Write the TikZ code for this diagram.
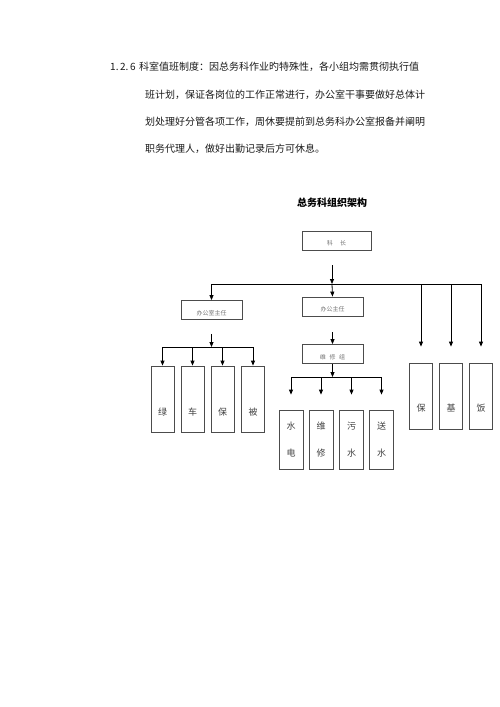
\documentclass[tikz,border=0pt]{standalone}
\usepackage{fontspec}
\newfontfamily\cjk{Noto Sans CJK SC}
\usetikzlibrary{positioning,arrows.meta,calc}

\begin{document}
\begin{tikzpicture}[x=1pt, y=-1pt, font=\cjk]
    \tikzstyle{para}=[anchor=base west, inner sep=0pt, font=\cjk\fontsize{10}{12}\selectfont, text=black!90]
    \tikzstyle{post}=[draw=black!70, line width=0.8pt, minimum width=61pt, minimum height=19pt,
                      inner sep=1pt, text height=11pt, text depth=1pt,
                      font=\cjk\fontsize{6}{7}\selectfont, text=black!55]
    \tikzstyle{unit}=[draw=black!70, line width=0.8pt, minimum width=23pt, minimum height=66pt,
                      inner sep=1pt, text height=34pt, text depth=1pt,
                      font=\cjk\fontsize{9}{11}\selectfont, text=black!75]
    \tikzstyle{team}=[draw=black!70, line width=0.8pt, minimum width=24pt, minimum height=59pt,
                      inner sep=1pt, align=center,
                      font=\cjk\fontsize{9}{27}\selectfont, text=black!75]
    \tikzstyle{arrow}=[draw=black, line width=0.8pt, -{Triangle[length=5pt,width=4pt]}]

    \useasboundingbox (0,0) rectangle (500,707);

    % paragraph
    \node[para] (line1) at (110,70.5) {\makebox[29pt][l]{1.\,2.\,6}科室值班制度：因总务科作业旳特殊性，各小组均需贯彻执行值};
    \node[para] (line2) at (145,98) {班计划，保证各岗位的工作正常进行，办公室干事要做好总体计};
    \node[para] (line3) at (145,125.5) {划处理好分管各项工作，周休要提前到总务科办公室报备并阐明};
    \node[para] (line4) at (145,152) {职务代理人，做好出勤记录后方可休息。};

    \node[font=\cjk\bfseries\fontsize{10}{12}\selectfont] (title) at (332,203) {总务科组织架构};

    % posts
    \node[post, minimum width=69pt] (chief) at (336.5,240.5) {科\hspace{1.2em}长};
    \node[post] (head) at (211.5,310) {办公室主任};
    \node[post] (office) at (332.5,306.5) {办公主任};
    \node[post] (repair) at (332.5,354) {维\hspace{0.6em}修\hspace{0.6em}组};

    % left group
    \node[unit] (green) at (162.5,399) {绿};
    \node[unit] (car) at (192.5,399) {车};
    \node[unit] (clean) at (222.5,399) {保};
    \node[unit] (quilt) at (253,399) {被};

    % repair group
    \node[team] (power) at (291,439.5) {水\\电};
    \node[team] (fix) at (321,439.5) {维\\修};
    \node[team] (sewage) at (351.5,439.5) {污\\水};
    \node[team] (water) at (381.5,439.5) {送\\水};

    % right group
    \node[unit, text height=32pt] (guard) at (421,396) {保};
    \node[unit, text height=32pt] (base) at (451,396) {基};
    \node[unit, text height=32pt] (canteen) at (481,396) {饭};

    % connectors
    \coordinate (hub) at (332,284);
    \coordinate (lhub) at (211.5,347);
    \coordinate (mhub) at (332.5,377);

    \draw[arrow] ($(chief.south -| hub)+(0,15)$) -- (hub);
    \draw[arrow] (hub) -- (office.north);
    \draw[arrow] (hub) -| (head.north);
    \foreach \n in {guard,base,canteen}
        \draw[arrow] (hub) -| ([yshift=16pt]\n.north);

    \draw[arrow] ([yshift=-14pt]head.south) -- (lhub);
    \foreach \n in {green,car,clean,quilt}
        \draw[arrow] (lhub) -| (\n.north);

    \draw[arrow] ([yshift=-16pt]office.south) -- (repair.north);
    \draw[arrow] (repair.south) -- (mhub);
    \foreach \n in {power,fix,sewage,water}
        \draw[arrow] (mhub) -| ([yshift=15pt]\n.north);
\end{tikzpicture}
\end{document}
